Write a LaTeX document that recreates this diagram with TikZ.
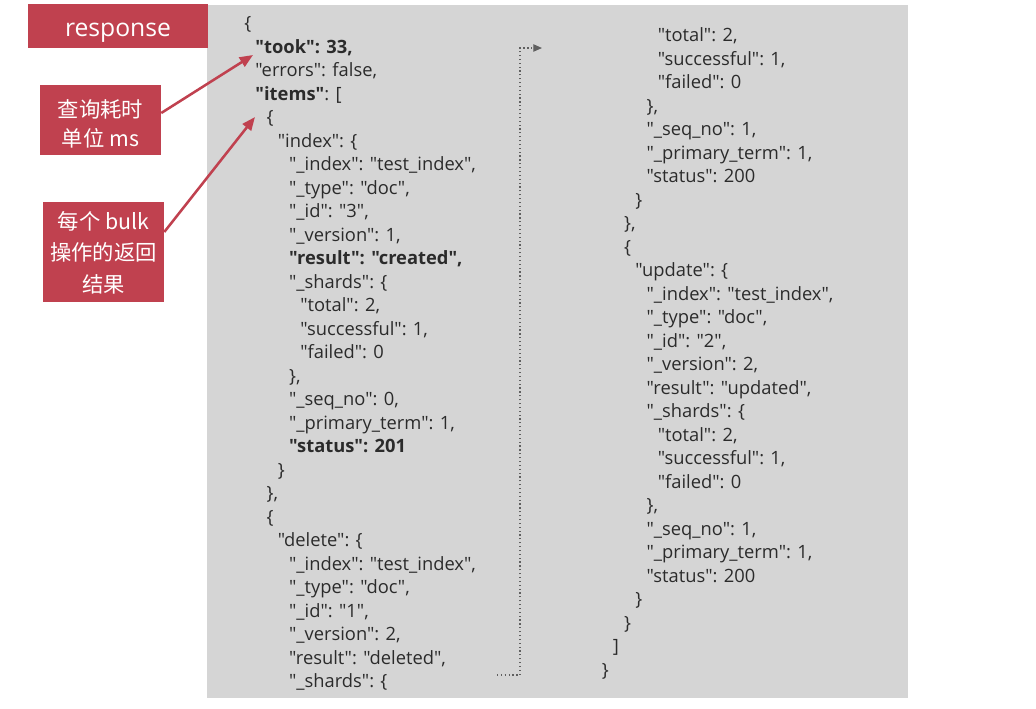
\documentclass[tikz,border=0pt]{standalone}
\usepackage{fontspec}
\setmainfont{Open Sans}[Ligatures=TeXOff]
\newfontfamily\cjk{Noto Sans CJK SC}
\usetikzlibrary{arrows.meta}
\definecolor{boxred}{HTML}{C0414F}
\definecolor{panel}{HTML}{D5D5D5}
\definecolor{codetxt}{HTML}{2B2B2B}
\tikzset{
  code/.style={anchor=base west, inner sep=0pt, text=codetxt, font=\fontsize{13.75}{16}\selectfont},
  bcode/.style={code, font=\fontsize{13.75}{16}\selectfont\bfseries},
  redbox/.style={fill=boxred, draw=none, inner sep=0pt},
  boxtext/.style={text=white, align=center, inner sep=0pt},
  callout/.style={draw=boxred, line width=1.9pt, -{Triangle[length=10pt,width=8pt]}},
  flow/.style={draw=gray!75!black, line width=0.9pt, dotted, -{Triangle[length=6.5pt,width=5.5pt]}}
}
\begin{document}
\begin{tikzpicture}[x=0.75pt,y=-0.75pt]
\useasboundingbox (0,0) rectangle (1036,708);
\fill[panel] (207,5) rectangle (908,698);
% red boxes
\node[redbox, minimum width=135pt, minimum height=33pt] (resp) at (118,26) {};
\node[boxtext, font=\fontsize{18.5}{20}\selectfont] (resp-text) at (resp.center) {\raisebox{-7.5pt}[0pt][0pt]{response}};
\node[redbox, minimum width=90.75pt, minimum height=52.5pt] (took-note) at (100.5,120) {};
\node[boxtext, font=\cjk\fontsize{16}{21.75}\selectfont] (took-text) at ([yshift=-3pt]took-note.center) {查询耗时\\单位 ms};
\node[redbox, minimum width=90.75pt, minimum height=75pt] (bulk-note) at (103.5,252) {};
\node[boxtext, font=\cjk\fontsize{16}{23.5}\selectfont] (bulk-text) at ([yshift=-0.5pt]bulk-note.center) {每个 bulk\\操作的返回\\结果};
% left column
\def\lx#1{244+11.2*#1}
\def\ly#1{29.5+23.5*#1}
\node[code] (l0) at ({\lx0},{\ly0}) {\{};
\node[bcode] (l1) at ({\lx1},{\ly1}) {"took": 33,};
\node[code] (l2) at ({\lx1},{\ly2}) {"errors": false,};
\node[code] (l3) at ({\lx1},{\ly3}) {\textbf{"items"}: [};
\node[code] (l4) at ({\lx2},{\ly4}) {\{};
\node[code] (l5) at ({\lx3},{\ly5}) {"index": \{};
\node[code] (l6) at ({\lx4},{\ly6}) {"\_index": "test\_index",};
\node[code] (l7) at ({\lx4},{\ly7}) {"\_type": "doc",};
\node[code] (l8) at ({\lx4},{\ly8}) {"\_id": "3",};
\node[code] (l9) at ({\lx4},{\ly9}) {"\_version": 1,};
\node[bcode] (l10) at ({\lx4},{\ly{10}}) {"result": "created",};
\node[code] (l11) at ({\lx4},{\ly{11}}) {"\_shards": \{};
\node[code] (l12) at ({\lx5},{\ly{12}}) {"total": 2,};
\node[code] (l13) at ({\lx5},{\ly{13}}) {"successful": 1,};
\node[code] (l14) at ({\lx5},{\ly{14}}) {"failed": 0};
\node[code] (l15) at ({\lx4},{\ly{15}}) {\},};
\node[code] (l16) at ({\lx4},{\ly{16}}) {"\_seq\_no": 0,};
\node[code] (l17) at ({\lx4},{\ly{17}}) {"\_primary\_term": 1,};
\node[bcode] (l18) at ({\lx4},{\ly{18}}) {"status": 201};
\node[code] (l19) at ({\lx3},{\ly{19}}) {\}};
\node[code] (l20) at ({\lx2},{\ly{20}}) {\},};
\node[code] (l21) at ({\lx2},{\ly{21}}) {\{};
\node[code] (l22) at ({\lx3},{\ly{22}}) {"delete": \{};
\node[code] (l23) at ({\lx4},{\ly{23}}) {"\_index": "test\_index",};
\node[code] (l24) at ({\lx4},{\ly{24}}) {"\_type": "doc",};
\node[code] (l25) at ({\lx4},{\ly{25}}) {"\_id": "1",};
\node[code] (l26) at ({\lx4},{\ly{26}}) {"\_version": 2,};
\node[code] (l27) at ({\lx4},{\ly{27}}) {"result": "deleted",};
\node[code] (l28) at ({\lx4},{\ly{28}}) {"\_shards": \{};
% right column
\def\rx#1{601.5+11.2*#1}
\def\ry#1{41.7+23.5*#1}
\node[code] (r0) at ({\rx5},{\ry0}) {"total": 2,};
\node[code] (r1) at ({\rx5},{\ry1}) {"successful": 1,};
\node[code] (r2) at ({\rx5},{\ry2}) {"failed": 0};
\node[code] (r3) at ({\rx4},{\ry3}) {\},};
\node[code] (r4) at ({\rx4},{\ry4}) {"\_seq\_no": 1,};
\node[code] (r5) at ({\rx4},{\ry5}) {"\_primary\_term": 1,};
\node[code] (r6) at ({\rx4},{\ry6}) {"status": 200};
\node[code] (r7) at ({\rx3},{\ry7}) {\}};
\node[code] (r8) at ({\rx2},{\ry8}) {\},};
\node[code] (r9) at ({\rx2},{\ry9}) {\{};
\node[code] (r10) at ({\rx3},{\ry{10}}) {"update": \{};
\node[code] (r11) at ({\rx4},{\ry{11}}) {"\_index": "test\_index",};
\node[code] (r12) at ({\rx4},{\ry{12}}) {"\_type": "doc",};
\node[code] (r13) at ({\rx4},{\ry{13}}) {"\_id": "2",};
\node[code] (r14) at ({\rx4},{\ry{14}}) {"\_version": 2,};
\node[code] (r15) at ({\rx4},{\ry{15}}) {"result": "updated",};
\node[code] (r16) at ({\rx4},{\ry{16}}) {"\_shards": \{};
\node[code] (r17) at ({\rx5},{\ry{17}}) {"total": 2,};
\node[code] (r18) at ({\rx5},{\ry{18}}) {"successful": 1,};
\node[code] (r19) at ({\rx5},{\ry{19}}) {"failed": 0};
\node[code] (r20) at ({\rx4},{\ry{20}}) {\},};
\node[code] (r21) at ({\rx4},{\ry{21}}) {"\_seq\_no": 1,};
\node[code] (r22) at ({\rx4},{\ry{22}}) {"\_primary\_term": 1,};
\node[code] (r23) at ({\rx4},{\ry{23}}) {"status": 200};
\node[code] (r24) at ({\rx3},{\ry{24}}) {\}};
\node[code] (r25) at ({\rx2},{\ry{25}}) {\}};
\node[code] (r26) at ({\rx1},{\ry{26}}) {]};
\node[code] (r27) at ({\rx0},{\ry{27}}) {\}};
% callout arrows
\coordinate (took-tip) at (253,55);
\coordinate (items-tip) at (255,117);
\draw[callout] (took-note.east) ++(0,-7) -- (took-tip);
\draw[callout] (bulk-note.east) ++(0,-20) -- (items-tip);
% continuation connector
\coordinate (cont-start) at (497,675);
\coordinate (cont-end) at (542,48);
\draw[flow] (cont-start) -| (520,48) -- (cont-end);
\end{tikzpicture}
\end{document}
